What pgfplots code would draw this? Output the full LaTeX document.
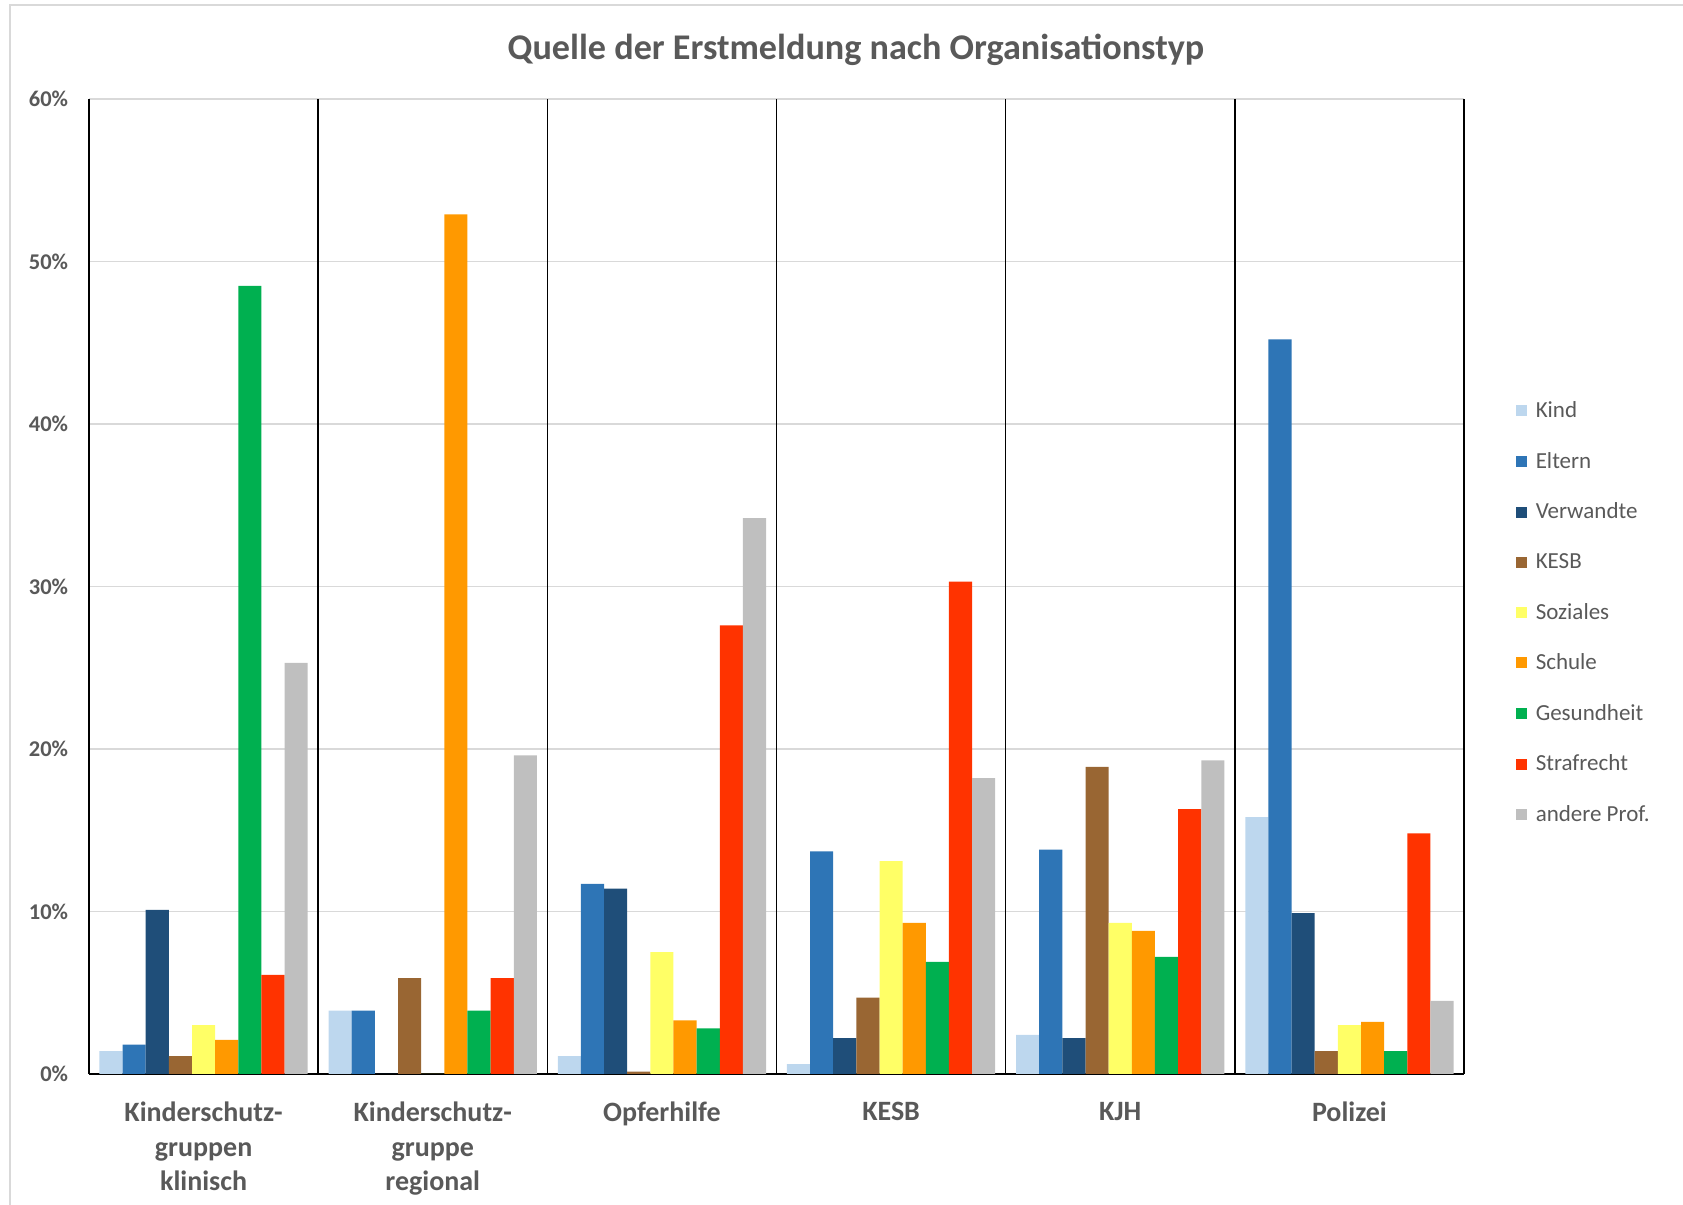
\documentclass[border=0pt]{standalone}
\usepackage{pgfplots}
\usepackage{pgfplotstable}
\pgfplotsset{compat=1.18}
\usepackage{fontspec}
\setmainfont{Carlito}

\definecolor{txt}{HTML}{595959}
\definecolor{gridc}{HTML}{D9D9D9}
\definecolor{cKind}{HTML}{BDD7EE}
\definecolor{cEltern}{HTML}{2E75B6}
\definecolor{cVerw}{HTML}{1F4E79}
\definecolor{cKESB}{HTML}{996633}
\definecolor{cSoz}{HTML}{FFFF66}
\definecolor{cSchule}{HTML}{FF9900}
\definecolor{cGes}{HTML}{00B050}
\definecolor{cStraf}{HTML}{FF3300}
\definecolor{cAndere}{HTML}{BFBFBF}

% g: 0 KSG klinisch, 1 KSG regional, 2 Opferhilfe, 3 KESB, 4 KJH, 5 Polizei
\pgfplotstableread{
g kind eltern verw kesb soz schule ges straf andere
0 1.4  1.8  10.1 1.1  3.0  2.1 48.5  6.1 25.3
1 3.9  3.9   0.0 5.9  0.0 52.9  3.9  5.9 19.6
2 1.1 11.7  11.4 0.15 7.5  3.3  2.8 27.6 34.2
3 0.6 13.7   2.2 4.7 13.1  9.3  6.9 30.3 18.2
4 2.4 13.8   2.2 18.9 9.3  8.8  7.2 16.3 19.3
5 15.8 45.2  9.9 1.4  3.0  3.2  1.4 14.8  4.5
}\data

\begin{document}
\begin{tikzpicture}
\useasboundingbox (-53.4pt,-78.6pt) rectangle (956.4pt,644.4pt);
\draw[gridc, line width=1.2pt] (-47.1pt,-78.6pt) -- (-47.1pt,641.4pt) -- (956.4pt,641.4pt);
\begin{axis}[
  at={(0pt,0pt)}, anchor=south west,
  scale only axis, width=825pt, height=585pt,
  ybar=0pt, bar width=0.101,
  xmin=-0.5, xmax=5.5, ymin=0, ymax=60,
  axis lines=left, axis line style={-, black, line width=1.2pt},
  xtick={0,1,2,3,4,5},
  xticklabels={{Kinderschutz-\\gruppen\\klinisch},{Kinderschutz-\\gruppe\\regional},Opferhilfe,KESB,KJH,Polizei},
  xticklabel style={align=center, font=\fontsize{16.8}{20.6}\selectfont\bfseries, text=txt, yshift=-13.3pt},
  ytick={0,10,...,60},
  yticklabel={\pgfmathprintnumber{\tick}\%},
  yticklabel style={font=\fontsize{13.5}{16}\selectfont\bfseries, text=txt, xshift=-9pt},
  /pgf/number format/assume math mode=true,
  major tick length=0pt,
  ymajorgrids, major grid style={gridc, line width=0.9pt},
  extra x ticks={-0.5,0.5,1.5,2.5,3.5,4.5,5.5},
  extra x tick labels={},
  extra x tick style={grid=major, major grid style={black, line width=0.9pt}},
  legend style={at={(1.034,0.473)}, anchor=west, draw=none, fill=none,
    font=\fontsize{13.8}{16}\selectfont, text=txt, row sep=15.3pt},
  legend cell align=left,
  legend image code/.code={\fill[#1] (0pt,-3.3pt) rectangle (6.6pt,3.3pt); \path (9.8pt,0pt);},
]
\addplot[fill=cKind, draw=none] table[x=g, y=kind] {\data};
\addplot[fill=cEltern, draw=none] table[x=g, y=eltern] {\data};
\addplot[fill=cVerw, draw=none] table[x=g, y=verw] {\data};
\addplot[fill=cKESB, draw=none] table[x=g, y=kesb] {\data};
\addplot[fill=cSoz, draw=none] table[x=g, y=soz] {\data};
\addplot[fill=cSchule, draw=none] table[x=g, y=schule] {\data};
\addplot[fill=cGes, draw=none] table[x=g, y=ges] {\data};
\addplot[fill=cStraf, draw=none] table[x=g, y=straf] {\data};
\addplot[fill=cAndere, draw=none] table[x=g, y=andere] {\data};
\legend{Kind,Eltern,Verwandte,KESB,Soziales,Schule,Gesundheit,Strafrecht,andere Prof.}
\end{axis}
\node[font=\fontsize{21.7}{25}\selectfont\bfseries, text=txt] at (460.2pt,614.4pt) {Quelle der Erstmeldung nach Organisationstyp};
\end{tikzpicture}
\end{document}
